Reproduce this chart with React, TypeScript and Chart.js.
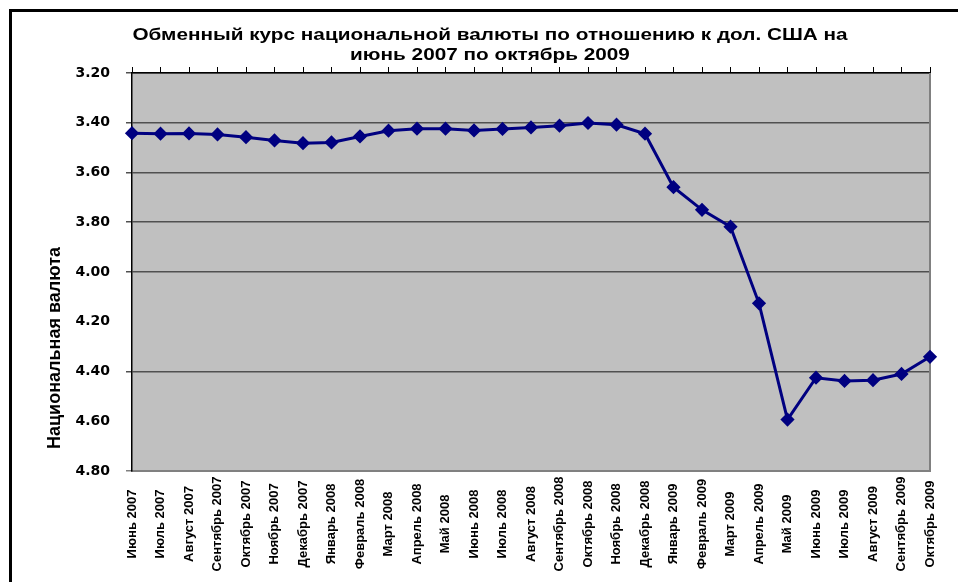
import React, { useEffect, useRef } from "react";
import { Chart, registerables } from "chart.js";

Chart.register(...registerables);

const categories: string[] = [
  "Июнь 2007", "Июль 2007", "Август 2007", "Сентябрь 2007", "Октябрь 2007", "Ноябрь 2007", "Декабрь 2007",
  "Январь 2008", "Февраль 2008", "Март 2008", "Апрель 2008", "Май 2008", "Июнь 2008", "Июль 2008",
  "Август 2008", "Сентябрь 2008", "Октябрь 2008", "Ноябрь 2008", "Декабрь 2008",
  "Январь 2009", "Февраль 2009", "Март 2009", "Апрель 2009", "Май 2009", "Июнь 2009", "Июль 2009",
  "Август 2009", "Сентябрь 2009", "Октябрь 2009",
];

const rates: number[] = [
  3.442, 3.444, 3.443, 3.447, 3.458, 3.471, 3.482, 3.479, 3.455, 3.432, 3.424, 3.424, 3.431, 3.425,
  3.419, 3.412, 3.401, 3.408, 3.444, 3.659, 3.750, 3.818, 4.126, 4.593, 4.425, 4.438, 4.435, 4.410, 4.341,
];

const titleLines: string[] = [
  "Обменный курс национальной валюты по отношению к дол. США на",
  "июнь 2007 по октябрь 2009",
];
const yAxisTitle = "Национальная валюта";
const yMin = 3.2;
const yMax = 4.8;
const yStep = 0.2;
const hiddenGridValues: number[] = [4.2, 4.6];

const FONT = '"Liberation Sans", Arial, sans-serif';

export default function App() {
  const ref = useRef<HTMLCanvasElement | null>(null);

  useEffect(() => {
    if (!ref.current) return;
    const decor = {
      id: "decor",
      beforeDraw(chart: any) {
        const { ctx, chartArea: a } = chart;
        ctx.save();
        ctx.fillStyle = "#ffffff";
        ctx.fillRect(0, 0, chart.width, chart.height);
        ctx.fillStyle = "#c0c0c0";
        ctx.fillRect(a.left, a.top, a.right - a.left, a.bottom - a.top);
        ctx.restore();
      },
      beforeDatasetsDraw(chart: any) {
        const { ctx, chartArea: a } = chart;
        ctx.save();
        ctx.strokeStyle = "#808080";
        ctx.lineWidth = 2;
        ctx.beginPath();
        ctx.moveTo(a.right, a.top);
        ctx.lineTo(a.right, a.bottom);
        ctx.stroke();
        ctx.restore();
      },
      afterDraw(chart: any) {
        const { ctx } = chart;
        const xs = chart.scales.x;
        ctx.save();
        ctx.fillStyle = "#000";
        ctx.fillRect(9, 9, chart.width, 3);
        ctx.fillRect(9, 9, 3, chart.height);

        // title (horizontally widened like the reference)
        ctx.font = "bold 17px " + FONT;
        ctx.textAlign = "center";
        ctx.textBaseline = "middle";
        ctx.save();
        ctx.translate(490, 0);
        ctx.scale(1.22, 1);
        ctx.fillText(titleLines[0], 0, 35);
        ctx.fillText(titleLines[1], 0, 55);
        ctx.restore();

        // y-axis title
        ctx.save();
        ctx.translate(55, 348);
        ctx.rotate(-Math.PI / 2);
        ctx.font = "bold 18px " + FONT;
        ctx.fillText(yAxisTitle, 0, 0);
        ctx.restore();

        // category labels, rotated and centred in the band below the plot
        ctx.font = "bold 13px " + FONT;
        categories.forEach((lab, i) => {
          const x = xs.getPixelForValue(i);
          ctx.save();
          ctx.translate(x, 524);
          ctx.rotate(-Math.PI / 2);
          ctx.fillText(lab, 0, 0);
          ctx.restore();
        });
        ctx.restore();
      },
    };

    const chart = new Chart(ref.current, {
      type: "line",
      data: {
        labels: categories,
        datasets: [
          {
            data: rates,
            borderColor: "#000080",
            backgroundColor: "#000080",
            borderWidth: 3,
            pointStyle: "rectRot",
            pointRadius: 5,
            pointBackgroundColor: "#000080",
            pointBorderColor: "#000080",
            tension: 0,
            xAxisID: "x",
          },
        ],
      },
      options: {
        animation: false,
        responsive: true,
        maintainAspectRatio: false,
        layout: { padding: { left: 0, top: 67, right: 28, bottom: 0 } },
        plugins: { legend: { display: false }, title: { display: false }, tooltip: { enabled: false } },
        scales: {
          x: {
            type: "category",
            position: "bottom",
            offset: false,
            grid: { display: false },
            border: { display: true, color: "#808080", width: 2 },
            ticks: { display: false },
            afterFit(scale: any) {
              scale.height = 111;
            },
          },
          xTop: {
            type: "category",
            position: "top",
            labels: categories,
            offset: false,
            grid: { drawOnChartArea: false, drawTicks: true, tickLength: 6, color: "#000" },
            border: { display: true, color: "#000", width: 1.5 },
            ticks: { display: false },
            afterFit(scale: any) {
              scale.height = 6;
            },
          },
          y: {
            type: "linear",
            reverse: true,
            min: yMin,
            max: yMax,
            border: { display: true, color: "#000", width: 1.5 },
            grid: {
              tickLength: 6,
              lineWidth: 1.5,
              color: (c: any) => {
                const v = c.tick ? Math.round(c.tick.value * 100) / 100 : 0;
                if (hiddenGridValues.some((h) => Math.abs(h - v) < 1e-6)) return "rgba(0,0,0,0)";
                if (Math.abs(v - yMax) < 1e-6) return "#808080";
                return "#505050";
              },
            },
            ticks: {
              stepSize: yStep,
              padding: 16,
              color: "#000",
              font: { family: '"DejaVu Sans", sans-serif', size: 14, weight: "bold" },
              callback: (v: any) => Number(v).toFixed(2),
            },
            afterFit(scale: any) {
              scale.width = 132;
            },
          },
        },
      },
      plugins: [decor],
    });
    return () => chart.destroy();
  }, []);

  return (
    <div style={{ position: "absolute", left: 0, top: 0, width: 958, height: 582 }}>
      <canvas ref={ref} />
    </div>
  );
}
